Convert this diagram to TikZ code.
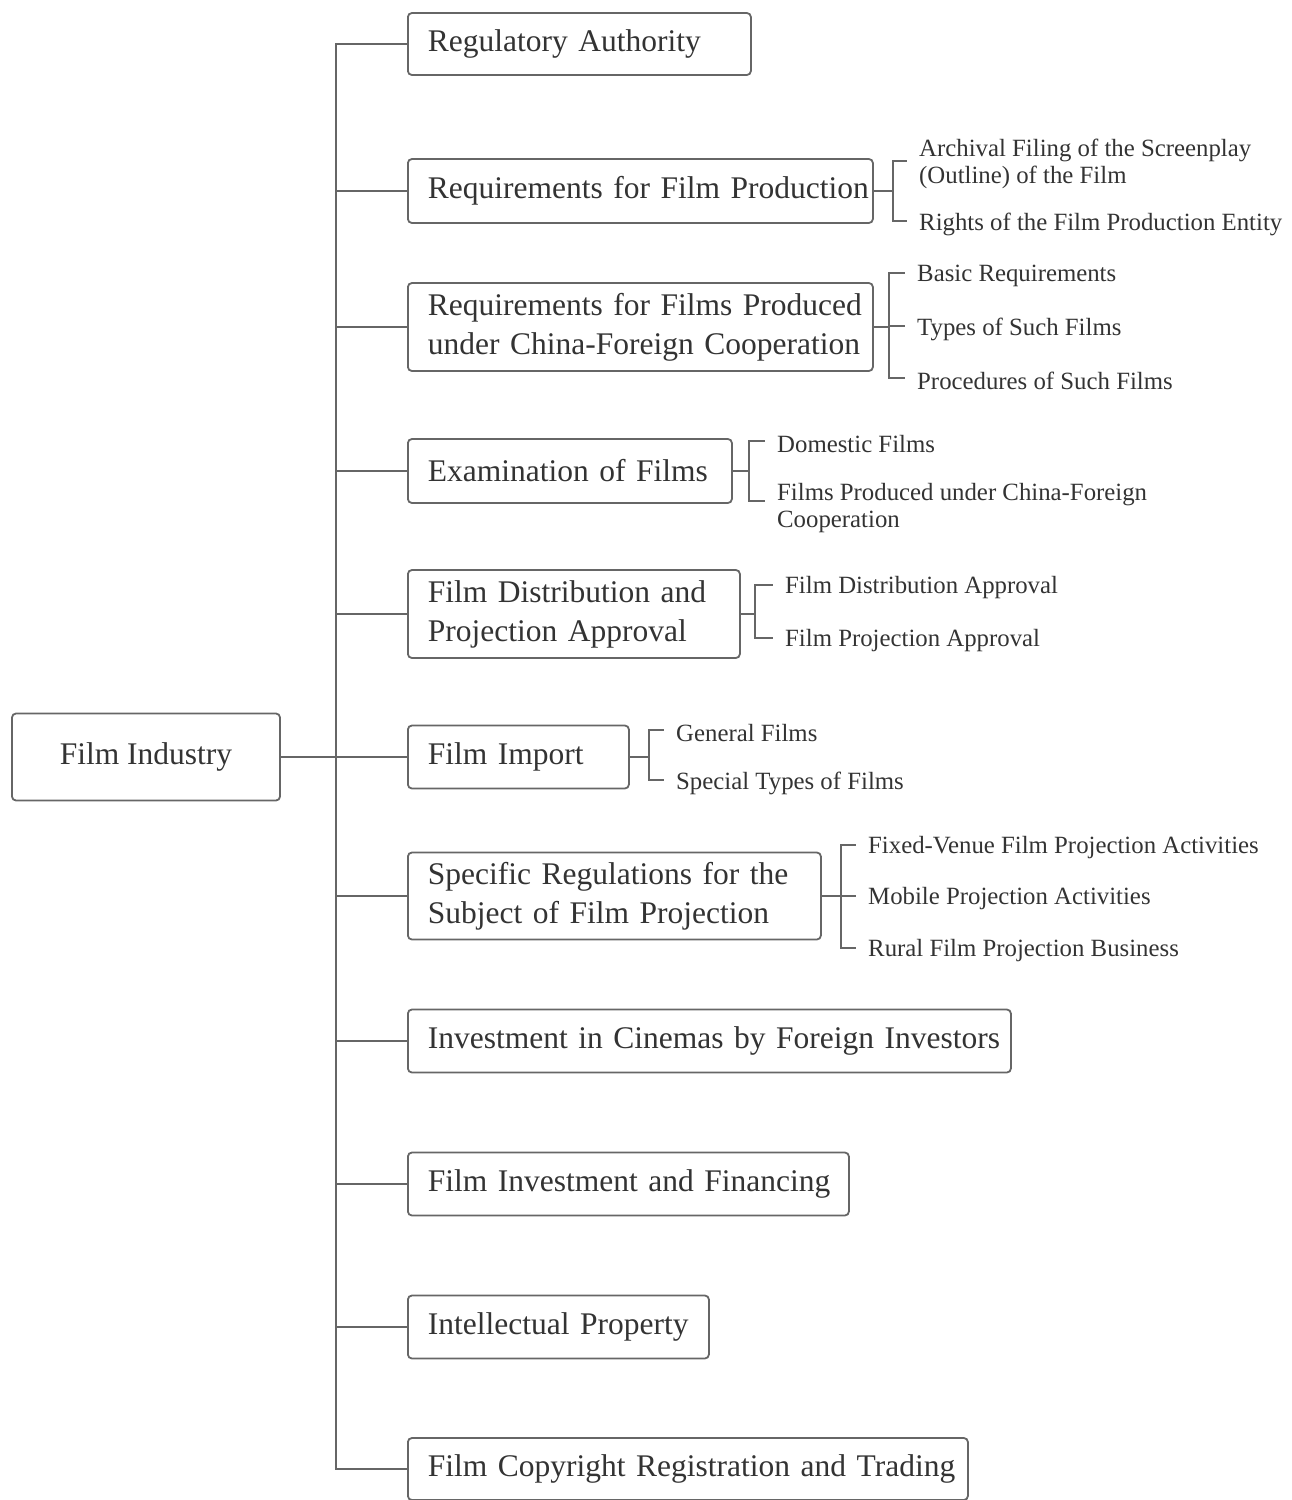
\documentclass[tikz,border=0pt]{standalone}
\usepackage{fontspec}
\setmainfont{Liberation Serif}
\definecolor{txt}{HTML}{333333}
\definecolor{ln}{HTML}{666666}
\tikzset{
  box/.style={draw=ln, line width=1.8pt, rounded corners=4pt, text=txt,
    font=\fontsize{31.5}{39}\selectfont, inner xsep=0pt, inner ysep=2pt,
    align=left, anchor=west},
  leaf/.style={text=txt, font=\fontsize{24.8}{27}\selectfont, inner xsep=12pt,
    inner ysep=0pt, align=left, anchor=west},
  conn/.style={draw=ln, line width=1.8pt},
}
\newcommand\ind{\hspace*{20pt}}
\begin{document}
\begin{tikzpicture}[x=1pt,y=-1pt]
\useasboundingbox (0,0) rectangle (1292,1500);

% root
\node[box, align=center, anchor=center, minimum width=268pt, minimum height=87pt] (root) at (146,757) {Film Industry};

% main boxes
\node[box, text width=343pt, minimum height=62pt] (b1) at (407,44) {\ind Regulatory Authority};
\node[box, text width=465pt, minimum height=64pt] (b2) at (407,191) {\ind Requirements for Film Production};
\node[box, text width=465pt, minimum height=88pt] (b3) at (407,327) {\ind Requirements for Films Produced\\\ind under China-Foreign Cooperation};
\node[box, text width=324pt, minimum height=64pt] (b4) at (407,471) {\ind Examination of Films};
\node[box, text width=332pt, minimum height=88pt] (b5) at (407,614) {\ind Film Distribution and\\\ind Projection Approval};
\node[box, text width=221pt, minimum height=63pt] (b6) at (407,757) {\ind Film Import};
\node[box, text width=413pt, minimum height=87pt] (b7) at (407,896) {\ind Specific Regulations for the\\\ind Subject of Film Projection};
\node[box, text width=603pt, minimum height=63pt] (b8) at (407,1041) {\ind Investment in Cinemas by Foreign Investors};
\node[box, text width=441pt, minimum height=63pt] (b9) at (407,1184) {\ind Film Investment and Financing};
\node[box, text width=301pt, minimum height=63pt] (b10) at (407,1327) {\ind Intellectual Property};
\node[box, text width=560pt, minimum height=62pt] (b11) at (407,1469) {\ind Film Copyright Registration and Trading};

% trunk
\draw[conn] (root.east) -- ++(55,0) coordinate (T);
\foreach \i in {1,...,11} \draw[conn] (T) |- (b\i.west);

% leaves of b2
\node[leaf] (l21) at (907,164) {Archival Filing of the Screenplay\\(Outline) of the Film};
\node[leaf] (l22) at (907,224) {Rights of the Film Production Entity};
\draw[conn] (b2.east) -- ++(19,0) coordinate (k2);
\foreach \j in {1,2} \draw[conn] (k2) |- ([yshift=3pt]l2\j.west);

% leaves of b3
\node[leaf] (l31) at (905,276) {Basic Requirements};
\node[leaf] (l32) at (905,329) {Types of Such Films};
\node[leaf] (l33) at (905,381) {Procedures of Such Films};
\draw[conn] (b3.east) -- ++(15,0) coordinate (k3);
\foreach \j in {1,2,3} \draw[conn] (k3) |- ([yshift=3pt]l3\j.west);

% leaves of b4
\node[leaf] (l41) at (765,444) {Domestic Films};
\node[leaf] (l42) at (765,508) {Films Produced under China-Foreign\\Cooperation};
\draw[conn] (b4.east) -- ++(16,0) coordinate (k4);
\draw[conn] (k4) |- ([yshift=3pt]l41.west);
\draw[conn] (k4) |- ([yshift=7pt]l42.west);

% leaves of b5
\node[leaf] (l51) at (773,588) {Film Distribution Approval};
\node[leaf] (l52) at (773,641) {Film Projection Approval};
\draw[conn] (b5.east) -- ++(14,0) coordinate (k5);
\foreach \j in {1,2} \draw[conn] (k5) |- ([yshift=3pt]l5\j.west);

% leaves of b6
\node[leaf] (l61) at (664,733) {General Films};
\node[leaf] (l62) at (664,783) {Special Types of Films};
\draw[conn] (b6.east) -- ++(19,0) coordinate (k6);
\foreach \j in {1,2} \draw[conn] (k6) |- ([yshift=3pt]l6\j.west);

% leaves of b7
\node[leaf] (l71) at (856,848) {Fixed-Venue Film Projection Activities};
\node[leaf] (l72) at (856,899) {Mobile Projection Activities};
\node[leaf] (l73) at (856,951) {Rural Film Projection Business};
\draw[conn] (b7.east) -- ++(19,0) coordinate (k7);
\foreach \j in {1,2,3} \draw[conn] (k7) |- ([yshift=3pt]l7\j.west);
\end{tikzpicture}
\end{document}
